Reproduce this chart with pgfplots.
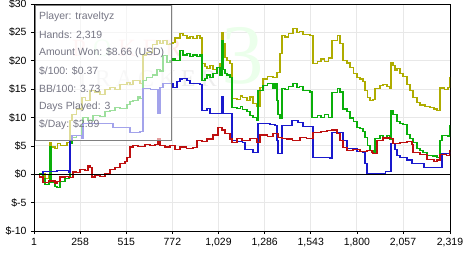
\documentclass[border=0pt]{standalone}
\usepackage{fontspec}
\setmainfont{Liberation Sans}
\newfontfamily\wmfont{Liberation Serif}
\usepackage{pgfplots}
\pgfplotsset{compat=1.18}
\definecolor{cy}{RGB}{175,172,0}
\definecolor{cg}{RGB}{10,175,10}
\definecolor{cb}{RGB}{25,25,205}
\definecolor{cr}{RGB}{190,15,15}
\definecolor{boxtext}{RGB}{118,118,132}
\definecolor{gridc}{RGB}{232,232,232}
\begin{document}
\begin{tikzpicture}
\begin{axis}[
  at={(0,0)}, anchor=south west,
  scale only axis, width=416bp, height=227bp,
  xmin=1, xmax=2319, ymin=-10, ymax=30,
  xtick={1,258,515,772,1029,1286,1543,1800,2057,2319},
  xticklabels={1,258,515,772,{1,029},{1,286},{1,543},{1,800},{2,057},{2,319}},
  ytick={-10,-5,0,5,10,15,20,25,30},
  yticklabels={\$-10,\$-5,\$0,\$5,\$10,\$15,\$20,\$25,\$30},
  grid=major, grid style={gridc, line width=0.8pt},
  tick align=outside, major tick length=3bp,
  xtick pos=left, ytick pos=left,
  tick style={black, line width=0.6pt},
  axis line style={black, line width=0.9pt},
  ticklabel style={font=\fontsize{10.5}{12}\selectfont},
  yticklabel style={xshift=-1bp},
  xticklabel style={yshift=-1bp},
  clip=true,
  const plot mark left,
  every axis plot/.append style={line width=1.2pt, mark=none},
]
% watermark
\node[text=red!9, font=\fontsize{25}{25}\selectfont\wmfont, anchor=west, inner sep=0pt] at (axis cs:213,22.1) {P\hspace{7pt}{\color{green!9}O}\hspace{7pt}K\hspace{7pt}E\hspace{7pt}R};
\node[text=black!7, font=\fontsize{24}{24}\selectfont\wmfont, anchor=west, inner sep=0pt] at (axis cs:230,16.9) {T\hspace{5pt}R\hspace{5pt}A\hspace{5pt}C\hspace{5pt}K\hspace{5pt}E\hspace{5pt}R};
\node[text=green!8, font=\fontsize{85}{85}\selectfont\wmfont, anchor=center, inner sep=0pt] at (axis cs:1166,20.8) {3};
% yellow
\addplot[cy, const plot] coordinates {
(1,0)(30,0.2)(62,-0.8)(85,-0.3)(90,5.5)(100,4.8)(118,4.6)(130,5.4)(150,5.0)(185,5.6)
(202,9.5)(213,10.5)(240,11.5)(268,13.5)(290,13.0)(313,14.8)(341,14.5)(369,14.0)(397,15.0)
(424,15.3)(452,15.0)(480,15.8)(519,16.2)(536,15.8)(553,16.5)(580,16.5)(592,16.0)(608,21.0)
(630,21.5)(660,22.8)(686,23.6)(703,23.0)(720,23.6)(742,22.9)(759,23.1)(775,23.2)(787,24.0)
(815,24.8)(831,24.5)(854,24.0)(870,24.3)(887,23.9)(909,24.5)(926,24.0)(937,19.5)(954,19.0)
(965,18.7)(982,19.2)(998,18.5)(1021,18.8)(1037,19.5)(1049,25.0)(1055,23.0)(1065,20.6)
(1076,20.0)(1093,19.5)(1104,13.4)(1132,13.2)(1150,13.8)(1165,13.5)(1188,13.0)(1205,13.6)
(1221,12.5)(1244,12.0)(1260,15.3)(1277,16.8)(1300,17.2)(1333,17.0)(1355,18.0)(1372,21.3)
(1383,24.5)(1400,24.2)(1420,24.8)(1444,25.7)(1466,25.0)(1480,25.2)(1500,24.6)(1539,24.5)
(1556,19.5)(1580,19.8)(1600,20.3)(1620,19.8)(1640,20.5)(1661,23.6)(1690,24.5)(1706,23.0)
(1723,20.1)(1745,19.6)(1762,18.8)(1780,17.8)(1801,17.1)(1818,16.8)(1834,16.4)(1845,14.8)
(1860,13.5)(1873,13.0)(1890,13.2)(1901,15.1)(1929,15.6)(1946,15.8)(1968,15.4)(1985,15.1)
(1990,19.7)(2001,19.2)(2013,18.3)(2024,18.6)(2040,17.8)(2057,17.2)(2079,15.8)(2096,14.8)
(2113,13.5)(2135,12.6)(2152,12.2)(2180,12.0)(2208,11.8)(2230,11.5)(2247,11.2)(2263,15.2)
(2290,15.0)(2308,15.3)(2319,17.1)
};
% green
\addplot[cg, const plot] coordinates {
(1,0)(30,0.1)(51,-0.8)(62,-1.8)(85,-1.5)(90,4.8)(96,-1.5)(118,-2.2)(129,-2.3)(146,-1.3)
(174,-0.8)(196,-0.5)(202,5.5)(213,6.5)(240,6.8)(268,8.5)(274,10.0)(302,9.5)(330,10.3)
(369,10.2)(397,11.0)(424,11.3)(452,11.8)(480,11.6)(519,12.3)(536,12.8)(553,13.0)(580,13.6)
(592,13.3)(608,16.5)(630,17.0)(660,17.5)(686,18.5)(703,18.2)(720,20.9)(742,19.7)(759,20.1)
(775,20.3)(787,20.0)(815,21.8)(831,21.0)(854,21.3)(870,20.8)(887,21.0)(909,20.7)(926,21.0)
(937,16.5)(954,16.9)(965,17.5)(982,17.0)(998,17.8)(1021,18.8)(1037,17.5)(1049,23.5)
(1055,18.5)(1065,17.8)(1076,17.5)(1093,17.1)(1104,11.8)(1132,11.6)(1150,12.0)(1165,11.4)
(1188,11.0)(1205,10.3)(1221,10.0)(1244,9.5)(1249,14.8)(1277,15.6)(1300,16.0)(1333,15.2)
(1344,16.0)(1355,13.0)(1361,10.5)(1372,9.9)(1383,15.1)(1400,15.0)(1420,15.5)(1444,16.0)
(1466,15.3)(1480,15.5)(1500,14.8)(1539,14.5)(1550,10.0)(1580,10.3)(1600,10.0)(1620,10.5)
(1640,10.0)(1661,14.4)(1690,15.1)(1706,14.5)(1723,11.5)(1745,11.0)(1762,9.9)(1780,9.3)
(1801,8.3)(1818,8.0)(1834,7.6)(1845,6.5)(1860,5.0)(1873,4.2)(1890,3.9)(1901,6.3)(1929,6.8)
(1946,6.5)(1968,6.8)(1985,6.2)(1990,11.3)(2001,10.5)(2013,10.5)(2024,9.3)(2040,9.0)
(2057,8.7)(2079,7.0)(2096,6.3)(2113,5.6)(2135,4.6)(2152,4.2)(2168,3.8)(2191,3.3)(2220,3.2)
(2247,3.0)(2263,6.0)(2274,6.8)(2308,6.6)(2319,8.66)
};
% blue
\addplot[cb, const plot] coordinates {
(1,0)(51,0.5)(100,0.5)(129,0.7)(174,0.6)(196,0.3)(202,6.0)(213,6.8)(240,6.8)(268,6.4)
(274,9.0)(302,9.0)(369,9.0)(408,9.0)(441,8.3)(519,8.3)(536,7.4)(580,7.4)(592,7.6)(608,15.1)
(650,15.0)(686,15.0)(692,10.7)(703,15.3)(720,16.0)(742,16.0)(775,15.3)(798,16.3)(815,16.8)
(826,16.9)(854,16.5)(870,16.0)(926,15.8)(937,11.3)(965,11.6)(982,10.7)(1037,10.7)(1049,13.6)
(1055,10.7)(1093,10.7)(1104,5.9)(1132,5.8)(1165,5.6)(1177,4.4)(1221,3.9)(1244,3.9)(1249,9.0)
(1316,8.8)(1344,8.6)(1355,6.0)(1361,3.7)(1380,3.7)(1383,8.6)(1428,8.6)(1439,9.5)(1466,9.5)
(1472,9.1)(1500,8.4)(1550,8.4)(1556,3.0)(1650,2.8)(1661,7.4)(1706,7.4)(1723,6.0)(1745,4.6)
(1790,4.6)(1801,4.0)(1834,3.9)(1845,1.9)(1856,0.2)(1946,0.2)(1960,0.5)(1985,0.5)(1990,5.4)
(2013,4.4)(2024,3.3)(2040,3.0)(2079,2.5)(2107,1.9)(2168,1.9)(2174,1.2)(2263,1.2)(2274,3.7)
(2319,4.0)
};
% red
\addplot[cr, const plot] coordinates {
(1,0)(30,-0.5)(51,-1.4)(80,-1.2)(118,-1.6)(129,-1.3)(146,-0.5)(174,-0.4)(196,-0.6)(218,0.4)
(240,0.3)(257,0.8)(285,0.7)(302,1.6)(313,1.2)(324,-0.5)(341,-0.2)(369,-0.4)(397,0.2)(424,0.9)
(452,1.2)(480,1.9)(508,2.3)(519,3.0)(536,4.8)(553,5.1)(580,4.9)(620,5.2)(647,5.0)(675,5.3)
(692,6.3)(703,5.0)(731,4.8)(759,5.0)(787,4.4)(815,4.8)(850,4.5)(887,4.7)(909,6.0)(937,5.8)
(965,6.2)(998,6.9)(1026,8.3)(1049,7.8)(1065,7.2)(1093,6.2)(1104,5.6)(1132,6.3)(1160,6.0)
(1205,6.3)(1244,5.6)(1260,6.9)(1300,6.6)(1333,7.2)(1361,6.5)(1383,6.3)(1411,6.2)(1440,6.0)
(1483,6.5)(1520,6.3)(1556,7.3)(1600,7.6)(1634,7.7)(1660,7.8)(1689,7.2)(1706,6.0)(1723,4.7)
(1745,4.2)(1778,4.4)(1818,4.0)(1856,4.2)(1884,3.9)(1890,3.7)(1912,6.0)(1946,6.4)(1985,6.3)
(2001,5.4)(2040,5.6)(2079,5.8)(2107,5.3)(2113,3.9)(2152,3.5)(2191,2.6)(2230,2.2)(2247,2.5)
(2263,3.5)(2300,3.3)(2319,4.3)
};
% zero line
\draw[black, line width=0.9pt] (axis cs:1,0) -- (axis cs:2319,0);
% info box
\fill[white, opacity=0.6] (axis cs:7,29.8) rectangle (axis cs:764,6.0);
\draw[black!50, line width=0.8pt] (axis cs:7,29.8) rectangle (axis cs:764,6.0);
\begin{scope}[every node/.style={anchor=west, text=boxtext, font=\fontsize{10.5}{12}\selectfont, inner sep=0pt}]
\node at (axis cs:28,27.7) {Player: traveltyz};
\node at (axis cs:28,24.5) {Hands: 2,319};
\node at (axis cs:28,21.35) {Amount Won: \$8.66 (USD)};
\node at (axis cs:28,18.2) {\$/100: \$0.37};
\node at (axis cs:28,15.05) {BB/100: 3.73};
\node at (axis cs:28,11.9) {Days Played: 3};
\node at (axis cs:28,8.75) {\$/Day: \$2.89};
\end{scope}
\end{axis}
\pgfresetboundingbox
\path (-34bp,-23bp) rectangle (432bp,231bp);
\end{tikzpicture}
\end{document}
